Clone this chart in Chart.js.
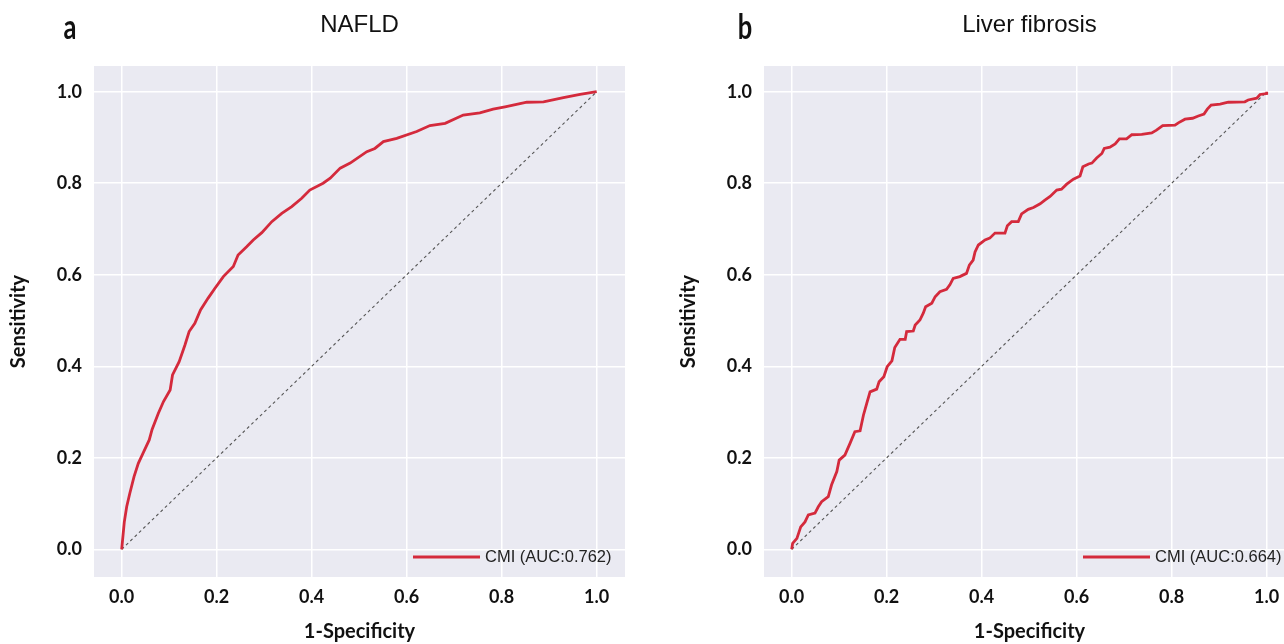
<!DOCTYPE html>
<html>
<head>
<meta charset="utf-8">
<script src="https://cdn.jsdelivr.net/npm/chart.js@4"></script>
<style>
  body { margin: 0; width: 1284px; height: 644px; overflow: hidden; background: #fff; position: relative; }
  .panel { position: absolute; top: 0; width: 640px; height: 644px; }
</style>
</head>
<body>
<div class="panel" style="left:0"><canvas id="nafld"></canvas></div>
<div class="panel" style="left:670px"><canvas id="fibrosis"></canvas></div>
<script>
// ROC curve a: NAFLD
const nafldFpr = [0, 0.0055, 0.0105, 0.017, 0.026, 0.035, 0.045, 0.058, 0.064, 0.077, 0.088, 0.102, 0.107, 0.121, 0.133, 0.142, 0.154, 0.166, 0.182, 0.196, 0.214, 0.235, 0.245, 0.263, 0.277, 0.295, 0.316, 0.337, 0.358, 0.379, 0.396, 0.424, 0.439, 0.46, 0.481, 0.516, 0.533, 0.551, 0.579, 0.621, 0.649, 0.681, 0.719, 0.754, 0.782, 0.807, 0.853, 0.888, 0.93, 0.965, 1.0];
const nafldTpr = [0, 0.06, 0.093, 0.122, 0.159, 0.188, 0.21, 0.239, 0.262, 0.297, 0.323, 0.348, 0.381, 0.41, 0.446, 0.476, 0.494, 0.523, 0.549, 0.57, 0.596, 0.618, 0.643, 0.661, 0.676, 0.692, 0.716, 0.734, 0.749, 0.767, 0.785, 0.80, 0.811, 0.833, 0.844, 0.869, 0.876, 0.891, 0.898, 0.913, 0.926, 0.931, 0.949, 0.954, 0.962, 0.967, 0.977, 0.978, 0.987, 0.994, 1.0];

// ROC curve b: liver fibrosis
const fibFpr = [0, 0.002, 0.011, 0.019, 0.028, 0.035, 0.049, 0.056, 0.063, 0.077, 0.084, 0.095, 0.1, 0.112, 0.123, 0.133, 0.144, 0.151, 0.158, 0.165, 0.179, 0.184, 0.194, 0.201, 0.211, 0.217, 0.228, 0.239, 0.242, 0.256, 0.26, 0.27, 0.277, 0.282, 0.295, 0.302, 0.312, 0.326, 0.333, 0.34, 0.354, 0.368, 0.374, 0.382, 0.386, 0.393, 0.407, 0.417, 0.428, 0.449, 0.454, 0.463, 0.477, 0.484, 0.498, 0.509, 0.523, 0.533, 0.544, 0.558, 0.568, 0.579, 0.593, 0.607, 0.613, 0.625, 0.632, 0.642, 0.653, 0.658, 0.67, 0.681, 0.69, 0.705, 0.716, 0.737, 0.758, 0.768, 0.781, 0.807, 0.814, 0.828, 0.844, 0.856, 0.868, 0.875, 0.883, 0.902, 0.919, 0.954, 0.961, 0.979, 0.986, 1.0, 1.0];
const fibTpr = [0, 0.013, 0.024, 0.049, 0.06, 0.075, 0.079, 0.093, 0.104, 0.115, 0.141, 0.17, 0.195, 0.206, 0.232, 0.257, 0.259, 0.293, 0.319, 0.344, 0.35, 0.366, 0.377, 0.399, 0.412, 0.441, 0.459, 0.459, 0.476, 0.477, 0.49, 0.501, 0.516, 0.53, 0.538, 0.552, 0.563, 0.568, 0.578, 0.592, 0.596, 0.603, 0.621, 0.632, 0.65, 0.665, 0.676, 0.68, 0.691, 0.691, 0.707, 0.716, 0.716, 0.733, 0.743, 0.747, 0.755, 0.763, 0.771, 0.785, 0.787, 0.798, 0.809, 0.816, 0.836, 0.842, 0.844, 0.855, 0.865, 0.876, 0.879, 0.886, 0.897, 0.897, 0.906, 0.907, 0.91, 0.916, 0.926, 0.927, 0.932, 0.94, 0.942, 0.947, 0.951, 0.962, 0.971, 0.973, 0.977, 0.978, 0.982, 0.986, 0.994, 0.996, 1.0];

const refLine = [0, 1];
const axisTicks = [0, 0.2, 0.4, 0.6, 0.8, 1.0];

const RED = '#d42a3c';

function toPoints(xs, ys) {
  return xs.map((x, i) => ({ x: x, y: ys[i] }));
}

// grey plot background like seaborn
const bgPlugin = {
  id: 'bg',
  beforeDraw(chart) {
    const a = chart.chartArea, c = chart.ctx;
    c.save();
    c.fillStyle = '#eaeaf2';
    c.fillRect(a.left, a.top, a.right - a.left, a.bottom - a.top);
    c.restore();
  }
};

// panel letter + title
const headPlugin = {
  id: 'head',
  afterDraw(chart, args, opts) {
    const c = chart.ctx, a = chart.chartArea;
    c.save();
    c.fillStyle = '#111';
    c.textBaseline = 'middle';
    c.textAlign = 'center';
    c.font = '24px "Liberation Sans"';
    c.fillText(opts.title, (a.left + a.right) / 2, 25);
    // narrow bold letter
    c.translate(opts.letterX, 28);
    c.scale(0.75, 1);
    c.font = 'bold 34px Lato';
    c.fillText(opts.letter, 0, 0);
    c.restore();
  }
};

// legend in the lower right corner of plot area
const legendPlugin = {
  id: 'roclegend',
  afterDatasetsDraw(chart) {
    const c = chart.ctx, a = chart.chartArea;
    const ds = chart.data.datasets[0];
    const y = a.bottom - 20;
    c.save();
    c.strokeStyle = ds.borderColor;
    c.lineWidth = 2.8;
    c.beginPath();
    c.moveTo(a.left + 319, y);
    c.lineTo(a.left + 386, y);
    c.stroke();
    c.fillStyle = '#222';
    c.font = '16.5px "Liberation Sans"';
    c.textBaseline = 'middle';
    c.textAlign = 'left';
    c.fillText(ds.label, a.left + 391, y);
    c.restore();
  }
};

function makeChart(id, fpr, tpr, auc, letter, letterX, title) {
  const tickFont = { family: 'Lato', weight: 'bold', size: 18 };
  const titleFont = { family: 'Lato', weight: 'bold', size: 20 };
  return new Chart(document.getElementById(id), {
    type: 'scatter',
    data: {
      datasets: [
        {
          label: 'CMI (AUC:' + auc + ')',
          data: toPoints(fpr, tpr),
          showLine: true,
          borderColor: RED,
          borderWidth: 2.8,
          pointRadius: 0,
          tension: 0,
          order: 0
        },
        {
          label: 'ref',
          data: toPoints(refLine, refLine),
          showLine: true,
          borderColor: '#555',
          borderWidth: 1.1,
          borderDash: [3, 3],
          pointRadius: 0,
          order: 1
        }
      ]
    },
    options: {
      responsive: true,
      maintainAspectRatio: false,
      animation: false,
      layout: { padding: { top: 66, right: 15, left: 0, bottom: 0 } },
      plugins: {
        legend: { display: false },
        tooltip: { enabled: false },
        head: { letter: letter, letterX: letterX, title: title }
      },
      scales: {
        x: {
          type: 'linear',
          min: -0.0583,
          max: 1.0596,
          afterBuildTicks: s => { s.ticks = axisTicks.map(v => ({ value: v })); },
          afterFit: s => { s.height = 67; },
          ticks: { font: tickFont, color: '#111', padding: 9, callback: v => v.toFixed(1) },
          grid: { color: '#fff', lineWidth: 1.5, drawTicks: false },
          border: { display: false },
          title: { display: true, text: '1-Specificity', font: titleFont, color: '#111', padding: { top: 0, bottom: 0 } }
        },
        y: {
          type: 'linear',
          min: -0.0605,
          max: 1.0562,
          afterBuildTicks: s => { s.ticks = axisTicks.map(v => ({ value: v })); },
          afterFit: s => { s.width = 94; },
          ticks: { font: tickFont, color: '#111', padding: 12, callback: v => v.toFixed(1) },
          grid: { color: '#fff', lineWidth: 1.5, drawTicks: false },
          border: { display: false },
          title: { display: true, text: 'Sensitivity', font: titleFont, color: '#111', padding: { top: 7, bottom: 0 } }
        }
      }
    },
    plugins: [bgPlugin, headPlugin, legendPlugin]
  });
}

makeChart('nafld', nafldFpr, nafldTpr, '0.762', 'a', 70, 'NAFLD');
makeChart('fibrosis', fibFpr, fibTpr, '0.664', 'b', 75, 'Liver fibrosis');
</script>
</body>
</html>
